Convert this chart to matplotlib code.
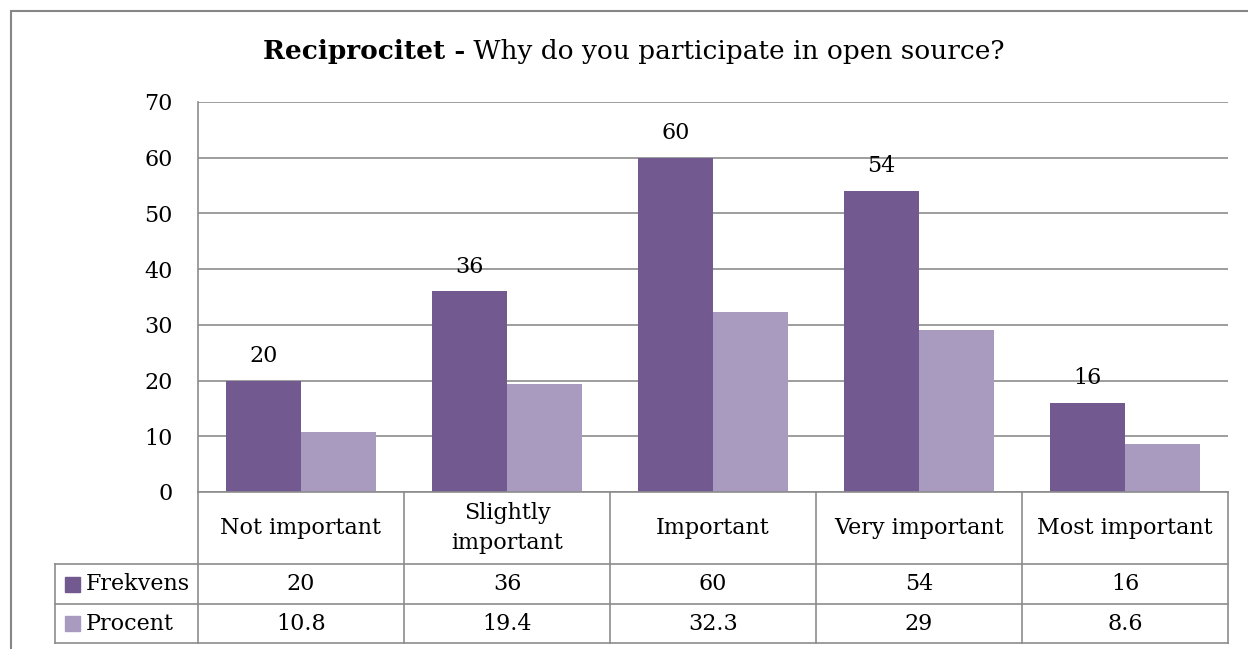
import matplotlib
matplotlib.use("Agg")
import matplotlib.pyplot as plt
from matplotlib.patches import Rectangle
from matplotlib.lines import Line2D

categories = ["Not important", "Slightly\nimportant", "Important", "Very important", "Most important"]
frekvens = [20, 36, 60, 54, 16]
procent = [10.8, 19.4, 32.3, 29, 8.6]
procent_labels = ["10.8", "19.4", "32.3", "29", "8.6"]
series_names = ["Frekvens", "Procent"]
yticks = [0, 10, 20, 30, 40, 50, 60, 70]

W, H = 1248, 649
DARK = "#725A90"
LIGHT = "#A99ABF"
GRID = "#8C8C8C"
FONT = "DejaVu Serif"
FS = 16

fig = plt.figure(figsize=(W / 100, H / 100), dpi=100)
plt.rcParams["font.family"] = [FONT]

def px_rect(l, t, r, b):
    return [l / W, 1 - b / H, (r - l) / W, (b - t) / H]

# outer chart border
fig.patches.append(Rectangle((11 / W, -0.1), 1.2, 1 - 11 / H + 0.1, transform=fig.transFigure,
                             fill=False, edgecolor="#868686", linewidth=1.5))

L, T, R, B = 198, 102, 1228, 492
ax = fig.add_axes(px_rect(L, T, R, B))
n = len(categories)
x = list(range(n))
bw = 75 / 206
ax.bar([i - bw / 2 for i in x], frekvens, width=bw, color=DARK, zorder=3)
ax.bar([i + bw / 2 for i in x], procent, width=bw, color=LIGHT, zorder=3)
for i, v in zip(x, frekvens):
    ax.annotate(str(v), (i - bw / 2, v), xytext=(0, 10), textcoords="offset points",
                ha="center", va="bottom", fontsize=FS, fontfamily=FONT, color="black")
ax.set_xlim(-0.5, n - 0.5)
ax.set_ylim(0, 70)
ax.set_yticks(yticks)
ax.set_yticklabels([str(t) for t in yticks], fontsize=FS, fontfamily=FONT)
ax.tick_params(axis="y", length=0, pad=18)
ax.set_xticks([])
ax.yaxis.grid(True, color=GRID, linewidth=1.2)
ax.set_axisbelow(True)
for s in ["top", "right", "bottom"]:
    ax.spines[s].set_visible(False)
ax.spines["left"].set_color(GRID)
ax.spines["left"].set_linewidth(1.2)

# data table axes (same x scale as the chart)
TB = 643
tax = fig.add_axes(px_rect(L, B, R, TB))
tax.set_xlim(-0.5, n - 0.5)
row_edges = [0, 39, 79, 151]  # pixel heights from bottom: procent row, frekvens row, header
tax.set_ylim(0, TB - B)
tax.axis("off")
left_x = -0.5 - (L - 55) / 206
lk = dict(color=GRID, linewidth=1.2, clip_on=False)
tax.add_line(Line2D([-0.5, n - 0.5], [row_edges[3]] * 2, **lk))
for yv in row_edges[:3]:
    tax.add_line(Line2D([left_x, n - 0.5], [yv] * 2, **lk))
for k in range(n + 1):
    tax.add_line(Line2D([k - 0.5] * 2, [0, row_edges[3]], **lk))
tax.add_line(Line2D([left_x] * 2, [0, row_edges[2]], **lk))

for i, c in enumerate(categories):
    tax.text(i, (row_edges[2] + row_edges[3]) / 2, c, ha="center", va="center",
             fontsize=FS, fontfamily=FONT, linespacing=1.45)
    tax.text(i, (row_edges[1] + row_edges[2]) / 2, str(frekvens[i]), ha="center", va="center",
             fontsize=FS, fontfamily=FONT)
    tax.text(i, (row_edges[0] + row_edges[1]) / 2, procent_labels[i], ha="center", va="center",
             fontsize=FS, fontfamily=FONT)

for name, col, (y0, y1) in [(series_names[0], DARK, (row_edges[1], row_edges[2])),
                            (series_names[1], LIGHT, (row_edges[0], row_edges[1]))]:
    yc = (y0 + y1) / 2
    ks = 15
    kx = left_x + 10 / 206
    tax.add_patch(Rectangle((kx, yc - ks / 2), ks / 206, ks, color=col, clip_on=False))
    tax.text(left_x + 31 / 206, yc, name, ha="left", va="center", fontsize=FS, fontfamily=FONT)

# title
t1 = fig.text(0, 1 - 52 / H, "Reciprocitet -", fontsize=19, fontweight="bold", fontfamily=FONT,
              ha="left", va="center")
t2 = fig.text(0, 1 - 52 / H, " Why do you participate in open source?", fontsize=19, fontfamily=FONT,
              ha="left", va="center")
fig.canvas.draw()
r = fig.canvas.get_renderer()
w1 = t1.get_window_extent(r).width
w2 = t2.get_window_extent(r).width
start = 634 - (w1 + w2) / 2
t1.set_x(start / W)
t2.set_x((start + w1) / W)

fig.savefig("out.png", dpi=100)
